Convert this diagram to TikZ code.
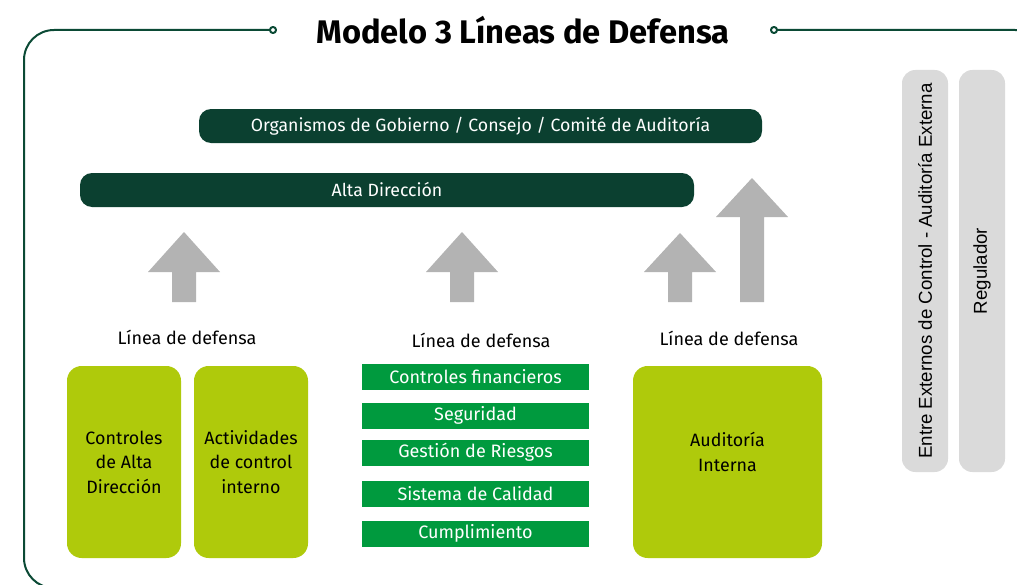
\documentclass[tikz,border=0pt]{standalone}
\usepackage{fontspec}
\setmainfont{Fira Sans}
\newfontfamily\vertfont{Liberation Sans}
\definecolor{darkgreen}{HTML}{0B4030}
\definecolor{framegreen}{HTML}{0B4A35}
\definecolor{lime}{HTML}{AFCA0B}
\definecolor{midgreen}{HTML}{009A3E}
\definecolor{arrowgray}{HTML}{B3B3B3}
\definecolor{bargray}{HTML}{DADADA}
\tikzset{
  topbar/.style={fill=darkgreen,text=white,rounded corners=9pt,minimum height=25.5pt,inner sep=0pt,font=\fontsize{13.3}{15}\selectfont},
  linebox/.style={fill=lime,rounded corners=11pt,minimum height=144pt,inner sep=0pt,align=center,font=\fontsize{13.4}{18.4}\selectfont},
  itembox/.style={fill=midgreen,text=white,minimum width=170.25pt,minimum height=19.5pt,inner sep=0pt,font=\fontsize{13.5}{15}\selectfont},
  sidebar/.style={fill=bargray,rounded corners=10pt,minimum width=301.5pt,minimum height=34.5pt,inner sep=0pt,rotate=90,font=\vertfont\fontsize{14}{16}\selectfont},
  linelabel/.style={font=\fontsize{13.5}{15}\selectfont}
}
\begin{document}
\begin{tikzpicture}[x=0.75pt,y=-0.75pt,line join=round]
\useasboundingbox (0,0) rectangle (1017,585);
\def\blockarrow(#1,#2,#3,#4){\fill[arrowgray] (#1-12,#4)--(#1-12,#3)--(#1-36,#3)--(#1,#2)--(#1+36,#3)--(#1+12,#3)--(#1+12,#4)--cycle;}
% frame
\begin{scope}
\clip (0,0) rectangle (1017,585);
\draw[framegreen,line width=1.5pt,rounded corners=22.5pt] (270,30)--(24,30)--(24,588)--(1045,588)--(1045,30)--(777,30);
\end{scope}
\draw[framegreen,line width=1.5pt,fill=white] (273,30) circle (2.3pt) (774,30) circle (2.3pt);
\node[font=\bfseries\fontsize{24.5}{28}\selectfont] (title) at (523,30) {Modelo 3 Líneas de Defensa};
% top bars
\node[topbar,minimum width=422.25pt] (organismos) at (480.5,126) {Organismos de Gobierno / Consejo / Comité de Auditoría};
\node[topbar,minimum width=460.5pt] (alta) at (387,190) {Alta Dirección};
% arrows
\blockarrow(184,232,272,302)
\blockarrow(462,232,272,302)
\blockarrow(680,233,272,302)
\blockarrow(752,178,217,302)
% lines of defense
\node[linelabel] (label1) at (187,337) {Línea de defensa};
\node[linelabel] (label2) at (481,340) {Línea de defensa};
\node[linelabel] (label3) at (729,338) {Línea de defensa};
\node[linebox,minimum width=85.5pt] (ctrlalta) at (124,462) {Controles\\de Alta\\Dirección};
\node[linebox,minimum width=85.5pt] (actividades) at (251,462) {Actividades\\de control\\interno};
\node[linebox,minimum width=141.75pt] (auditoria) at (727.5,462) {};
\node[linelabel,align=center,font=\fontsize{13.4}{18.4}\selectfont] (auditoriatxt) at (727.5,452) {Auditoría\\Interna};
\node[itembox] (financieros) at (475.5,377) {Controles financieros};
\node[itembox] (seguridad) at (475.5,415.5) {Seguridad};
\node[itembox] (riesgos) at (475.5,452.5) {Gestión de Riesgos};
\node[itembox] (calidad) at (475.5,493.5) {Sistema de Calidad};
\node[itembox] (cumplimiento) at (475.5,533.5) {Cumplimiento};
% external
\node[sidebar] (externos) at (925,271) {Entre Externos de Control - Auditoría Externa};
\node[sidebar] (regulador) at (982,271) {Regulador};
\end{tikzpicture}
\end{document}
